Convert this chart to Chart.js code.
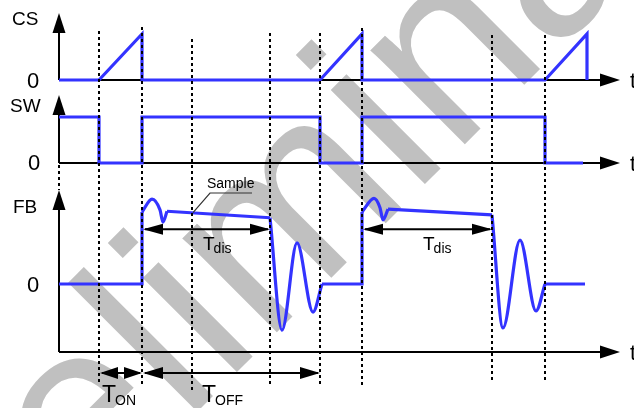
<!DOCTYPE html>
<html>
<head>
<meta charset="utf-8">
<script src="https://cdn.jsdelivr.net/npm/chart.js@4.4.1/dist/chart.umd.min.js"></script>
<style>
  html, body { margin: 0; padding: 0; background: #fff; }
  canvas { display: block; }
</style>
</head>
<body>
<canvas id="timing" width="634" height="408"></canvas>
<script>
// time in arbitrary units (one unit = 10 px), levels normalised per trace
const csTime  = [0, 4.0, 8.3, 8.3, 26.1, 30.3, 30.3, 48.6, 52.8, 52.8];
const csLevel = [0, 0,   1,   0,   0,    1,    0,    0,    1,    0];

const swTime  = [0, 4.0, 4.0, 8.3, 8.3, 26.1, 26.1, 30.3, 30.3, 48.6, 48.6, 52.4];
const swLevel = [1, 1,   0,   0,   1,   1,    0,    0,    1,    1,    0,    0];

// FB pieces: straight edges, the small ripple after turn-off, the plateau, the ringing
const fbRise1    = [[0, 0], [8.3, 0], [8.3, 1.0]];
const fbRipple1  = [[8.3, 1.0], [9.3, 1.18], [10.1, 1.03], [10.4, 0.86], [10.8, 1.01]];
const fbPlateau1 = [[10.8, 1.01], [21.1, 0.92]];
const fbRing1    = [[21.1, 0.92], [22.3, -0.64], [23.8, 0.57], [25.4, -0.39], [26.3, 0]];
const fbRise2    = [[26.3, 0], [30.3, 0], [30.3, 1.0]];
const fbRipple2  = [[30.3, 1.0], [31.5, 1.19], [32.1, 1.06], [32.4, 0.89], [32.9, 1.04]];
const fbPlateau2 = [[32.9, 1.04], [43.3, 0.96]];
const fbRing2    = [[43.3, 0.96], [44.4, -0.61], [46.1, 0.61], [47.7, -0.375], [48.6, 0]];
const fbTail     = [[48.6, 0], [52.6, 0]];

const edges    = [4.0, 8.3, 13.3, 21.1, 26.1, 30.3, 43.3, 48.6];
const tOn      = [4.0, 8.3];
const tOff     = [8.3, 26.1];
const tDis     = [[8.3, 21.1], [30.3, 43.3]];
const sampleAt = 13.3;
const panelNames = ['CS', 'SW', 'FB'];

const BLUE = '#3333ff';
const FONT = '"Liberation Sans", Arial, sans-serif';

const pts = (xs, ys) => xs.map((x, i) => ({ x: x, y: ys[i] }));
const pairs = arr => arr.map(p => ({ x: p[0], y: p[1] }));

function trace(data, axis, smooth) {
  return {
    data: data,
    yAxisID: axis,
    borderColor: BLUE,
    borderWidth: 3.2,
    borderJoinStyle: 'miter',
    pointRadius: 0,
    fill: false,
    tension: 0,
    cubicInterpolationMode: smooth ? 'monotone' : 'default'
  };
}

function head(ctx, x, y, dir, len, half) {
  ctx.beginPath();
  ctx.moveTo(x, y);
  if (dir === 'r') { ctx.lineTo(x - len, y - half); ctx.lineTo(x - len, y + half); }
  if (dir === 'l') { ctx.lineTo(x + len, y - half); ctx.lineTo(x + len, y + half); }
  if (dir === 'u') { ctx.lineTo(x - half, y + len); ctx.lineTo(x + half, y + len); }
  ctx.closePath();
  ctx.fill();
}

function span(ctx, x1, x2, y, len, half) {
  ctx.beginPath();
  ctx.moveTo(x1 + 2, y);
  ctx.lineTo(x2 - 2, y);
  ctx.stroke();
  head(ctx, x1, y, 'l', len, half);
  head(ctx, x2, y, 'r', len, half);
}

function subLabel(ctx, main, sub, x, y, big, small) {
  ctx.font = big + 'px ' + FONT;
  ctx.fillText(main, x, y);
  const w = ctx.measureText(main).width;
  ctx.font = small + 'px ' + FONT;
  ctx.fillText(sub, x + w - 1, y + 3);
}

// big grey draft stamp behind everything
const stamp = {
  id: 'stamp',
  beforeDraw(chart) {
    const ctx = chart.ctx;
    ctx.save();
    ctx.translate(-92, 701);
    ctx.rotate(-Math.PI / 4);
    ctx.font = '252px ' + FONT;
    ctx.fillStyle = '#c0c0c0';
    ctx.textBaseline = 'alphabetic';
    ctx.fillText('Preliminary', 0, 0);
    ctx.restore();
  }
};

// axes with arrow heads and the panel labels
const axes = {
  id: 'axes',
  beforeDatasetsDraw(chart) {
    const ctx = chart.ctx;
    const x0 = chart.scales.x.getPixelForValue(0);
    const rows = [
      { axis: chart.scales.cs.getPixelForValue(0), tip: 13, name: [12, 25], zero: [27, 88] },
      { axis: chart.scales.sw.getPixelForValue(0), tip: 95, name: [10, 112], zero: [28, 170] },
      { axis: 352, tip: 190, name: [13, 213], zero: [27, 292] }
    ];
    ctx.save();
    ctx.strokeStyle = '#000';
    ctx.fillStyle = '#000';
    ctx.lineWidth = 2;
    rows.forEach((r, i) => {
      ctx.beginPath();
      ctx.moveTo(x0, r.axis);
      ctx.lineTo(x0, r.tip + 10);
      ctx.moveTo(x0, r.axis);
      ctx.lineTo(605, r.axis);
      ctx.stroke();
      head(ctx, x0, r.tip, 'u', 20, 6.5);
      head(ctx, 620, r.axis, 'r', 20, 6.5);
      ctx.font = '19px ' + FONT;
      ctx.fillText(panelNames[i], r.name[0], r.name[1]);
      ctx.font = '22px ' + FONT;
      ctx.fillText('0', r.zero[0], r.zero[1]);
      ctx.fillText('t', 630, r.axis + 8);
    });
    // dotted link between the SW and FB axes
    ctx.setLineDash([3, 3]);
    ctx.beginPath();
    ctx.moveTo(x0, 165);
    ctx.lineTo(x0, 190);
    ctx.stroke();
    ctx.restore();
  },
  afterDatasetsDraw(chart) {
    const ctx = chart.ctx;
    const px = v => chart.scales.x.getPixelForValue(v);
    const dotSpan = [[31, 383], [27, 385], [39, 391], [33, 384], [33, 385], [28, 385], [35, 380], [35, 380]];
    ctx.save();
    ctx.strokeStyle = '#000';
    ctx.fillStyle = '#000';
    ctx.lineWidth = 2;
    ctx.setLineDash([3, 3]);
    edges.forEach((t, i) => {
      const x = Math.round(px(t));
      ctx.beginPath();
      ctx.moveTo(x, dotSpan[i][0]);
      ctx.lineTo(x, dotSpan[i][1]);
      ctx.stroke();
    });
    ctx.setLineDash([]);

    // T_dis spans on the FB trace
    const yDis = chart.scales.fb.getPixelForValue(0.76);
    tDis.forEach(d => {
      span(ctx, px(d[0]) + 1, px(d[1]), yDis, 20, 5.5);
      subLabel(ctx, 'T', 'dis', px(d[0]) + 61, yDis + 21, 19, 14);
    });

    // T_ON / T_OFF below the time axis
    const yT = 373;
    span(ctx, px(tOn[0]) + 1, px(tOn[1]), yT, 18, 6);
    span(ctx, px(tOff[0]) + 1, px(tOff[1]), yT, 20, 6);
    subLabel(ctx, 'T', 'ON', px(tOn[0]) + 3, 402, 23, 14);
    subLabel(ctx, 'T', 'OFF', px(tOff[0]) + 60, 402, 23, 14);

    // sample point callout
    const sx = px(sampleAt);
    const sy = chart.scales.fb.getPixelForValue(0.99);
    ctx.strokeStyle = '#333';
    ctx.lineWidth = 1.2;
    ctx.beginPath();
    ctx.moveTo(sx + 1, sy);
    ctx.lineTo(sx + 18, 193);
    ctx.lineTo(sx + 60, 193);
    ctx.stroke();
    ctx.fillStyle = '#000';
    ctx.font = '14px ' + FONT;
    ctx.fillText('Sample', sx + 15, 188);
    ctx.restore();
  }
};

new Chart(document.getElementById('timing'), {
  type: 'line',
  data: {
    datasets: [
      trace(pts(csTime, csLevel), 'cs', false),
      trace(pts(swTime, swLevel), 'sw', false),
      trace(pairs(fbRise1), 'fb', false),
      trace(pairs(fbRipple1), 'fb', true),
      trace(pairs(fbPlateau1), 'fb', false),
      trace(pairs(fbRing1), 'fb', true),
      trace(pairs(fbRise2), 'fb', false),
      trace(pairs(fbRipple2), 'fb', true),
      trace(pairs(fbPlateau2), 'fb', false),
      trace(pairs(fbRing2), 'fb', true),
      trace(pairs(fbTail), 'fb', false)
    ]
  },
  options: {
    responsive: false,
    animation: false,
    devicePixelRatio: 1,
    layout: { padding: 0 },
    plugins: { legend: { display: false }, tooltip: { enabled: false } },
    scales: {
      x:  { type: 'linear', min: -5.9, max: 57.5, display: false },
      cs: { type: 'linear', position: 'left', min: -7.130, max: 1.739, display: false },
      sw: { type: 'linear', position: 'left', min: -5.326, max: 3.543, display: false },
      fb: { type: 'linear', position: 'left', min: -1.722, max: 3.944, display: false }
    }
  },
  plugins: [stamp, axes]
});
</script>
</body>
</html>
